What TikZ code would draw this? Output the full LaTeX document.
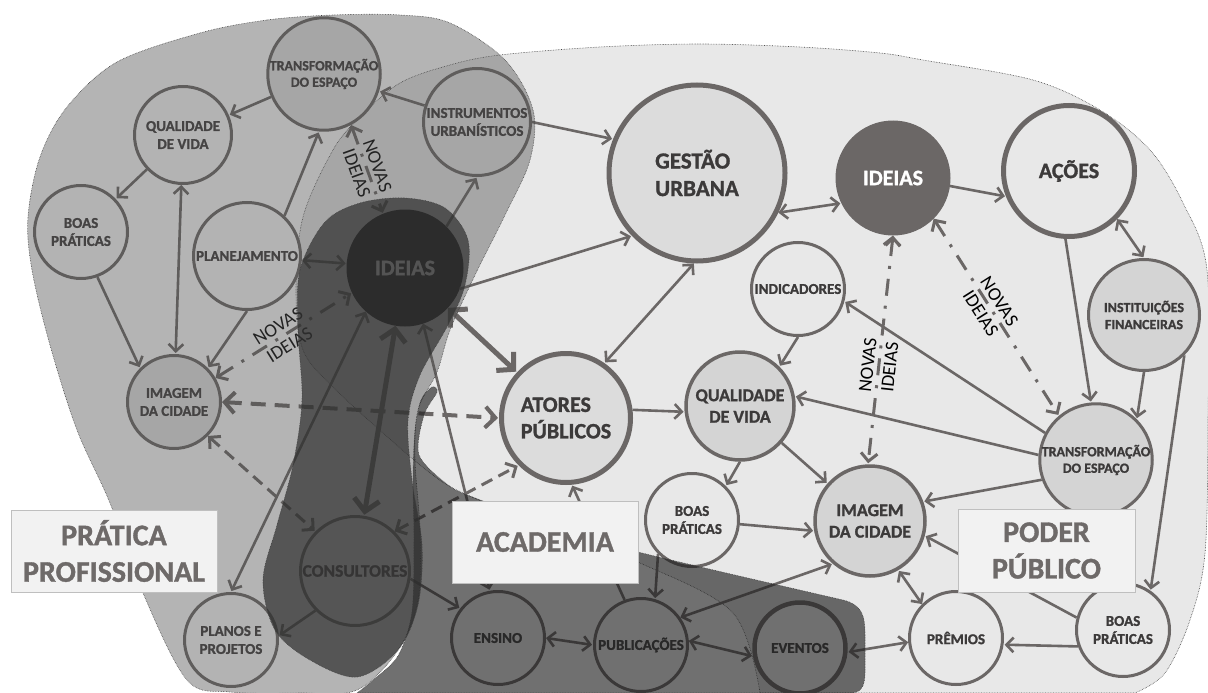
\documentclass[tikz,border=0pt]{standalone}
\usepackage{fontspec}
\setmainfont{Carlito}[BoldFeatures={FakeBold=1.2}]
\usetikzlibrary{arrows.meta}

\definecolor{edgegray}{HTML}{6B6766}
\definecolor{ink}{HTML}{3C3A3A}
\definecolor{paper}{HTML}{E8E8E8}
\definecolor{tint}{HTML}{D4D4D4}
\definecolor{tone}{HTML}{DCDCDC}
\definecolor{boxfill}{HTML}{F2F2F2}
\definecolor{boxline}{HTML}{BFBFBF}
\definecolor{boxtext}{HTML}{6E6A69}
\definecolor{rim}{HTML}{404040}
\definecolor{veilpro}{HTML}{515151}
\definecolor{veilacad}{HTML}{1E1E1E}
\definecolor{veilcons}{HTML}{2F2F2F}
\definecolor{seed}{HTML}{0A0A0A}

\begin{document}
\begin{tikzpicture}[x=1pt,y=-1pt,shorten >=1pt,
  >={Straight Barb[length=2pt 2,width=3pt 4.5]},
  ball/.style={circle,draw=edgegray,line width=3pt,fill=white,inner sep=0pt,
    align=center,text=ink,minimum size=93pt,font=\bfseries\fontsize{15}{18}\selectfont},
  bigball/.style={ball,line width=5pt,font=\bfseries\fontsize{22}{26.5}\selectfont},
  link/.style={draw=edgegray,line width=2.6pt},
  heavy/.style={line width=5pt},
  guess/.style={line width=4pt,dash pattern=on 15pt off 9pt},
  thinguess/.style={line width=3pt,dash pattern=on 12pt off 7pt},
  hint/.style={line width=3pt,dash pattern=on 17pt off 10pt on 3pt off 10pt},
  novas/.style={sloped,inner sep=0pt,align=center,text=black,font=\fontsize{19}{22}\selectfont},
  area/.style={rectangle,fill=boxfill,draw=boxline,line width=1pt,text=boxtext,align=center,
    minimum height=82pt,font=\bfseries\fontsize{30}{36.5}\selectfont},
  veil/.style={draw=rim,line width=.6pt,densely dotted}]

\useasboundingbox (0,0) rectangle (1208,693);

% poder publico
\filldraw[veil,fill=paper]
  plot[smooth,tension=.55] coordinates {(760,693) (733,613) (640,563) (540,525) (463,493) (430,473)
    (383,433) (333,387) (303,350) (296,290) (303,217) (333,150) (360,117) (400,83) (450,65) (500,55)
    (600,47) (700,44) (800,47) (880,53) (923,60) (1033,80) (1100,110) (1150,150) (1183,203)
    (1207,270) (1208,420) (1205,553) (1190,620) (1165,673) (1135,693)} -- cycle;

\node[ball,fill=paper,minimum size=109pt,font=\bfseries\fontsize{14}{16.5}\selectfont] (tr1) at (324,74) {TRANSFORMAÇÃO\\DO ESPAÇO};
\node[ball,minimum size=97pt] (qv1) at (183,135) {QUALIDADE\\DE VIDA};
\node[ball] (bp1) at (81,232) {BOAS\\PRÁTICAS};
\node[ball,minimum size=107pt] (plan) at (247,256) {PLANEJAMENTO};
\node[ball,fill=paper,minimum size=107pt] (inst) at (477,122) {INSTRUMENTOS\\URBANÍSTICOS};
\node[bigball,fill=seed,draw=seed,line width=1pt,text=white,minimum size=116pt] (idL) at (405,268) {IDEIAS};
\node[ball,fill=paper] (im1) at (174,402) {IMAGEM\\DA CIDADE};
\node[ball,fill=none,minimum size=109pt,font=\bfseries\fontsize{17.5}{21}\selectfont] (cons) at (355,571) {CONSULTORES};
\node[ball] (pp) at (231,640) {PLANOS E\\PROJETOS};

\node[bigball,fill=tone,align=left,minimum size=176pt,font=\bfseries\fontsize{23}{27.5}\selectfont] (gest) at (697,173) {GESTÃO\\URBANA};
\node[bigball,fill=edgegray,line width=1pt,text=white,minimum size=114pt] (idR) at (893,178) {IDEIAS};
\node[bigball,fill=paper,minimum size=131pt] (acoes) at (1069,171) {AÇÕES};
\node[ball,fill=paper] (ind) at (798,289) {INDICADORES};
\node[ball,fill=tint,minimum size=111pt,font=\bfseries\fontsize{14}{17}\selectfont] (fin) at (1144,315) {INSTITUIÇÕES\\FINANCEIRAS};
\node[bigball,fill=tone,align=left,minimum size=129pt] (ator) at (566,418) {ATORES\\PÚBLICOS};
\node[ball,fill=tint,line width=3.5pt,minimum size=108pt,font=\bfseries\fontsize{18}{21.5}\selectfont] (qv2) at (740,406) {QUALIDADE\\DE VIDA};
\node[ball,fill=paper] (bp2) at (692,520) {BOAS\\PRÁTICAS};
\node[ball,fill=tint,minimum size=109pt,font=\bfseries\fontsize{14}{16.5}\selectfont] (tr2) at (1096,460) {TRANSFORMAÇÃO\\DO ESPAÇO};
\node[ball,fill=tint,line width=3.5pt,minimum size=110pt,font=\bfseries\fontsize{18}{21.5}\selectfont] (im2) at (870,521) {IMAGEM\\DA CIDADE};
\node[ball,fill=paper] (prem) at (956,638) {PRÊMIOS};
\node[ball,fill=paper] (bp3) at (1123,630) {BOAS\\PRÁTICAS};
\node[ball] (ens) at (498,638) {ENSINO};
\node[ball] (pub) at (641,645) {PUBLICAÇÕES};
\node[ball,line width=4.5pt,minimum size=91pt] (ev) at (800,648) {EVENTOS};

\path[link,->]
  (inst) edge (tr1)
  (tr1) edge (qv1)
  (qv1) edge (bp1)
  (qv1) edge[<->] (im1)
  (bp1.-70) edge (im1.135)
  (plan.47) edge (tr1.-95)
  (plan.-90) edge (im1.45)
  (plan) edge[<->] (idL)
  (idL.45) edge (inst.-90)
  (idL.-132) edge[<->] (pp.90)
  (idL.-72) edge[<->] (ens.100)
  (idL) edge[heavy,<->] (cons)
  (idL) edge[heavy,<->] (ator)
  (idL.-21) edge (gest.224)
  (inst.0) edge (gest.158)
  (gest.-92) edge[<->] (ator.55)
  (gest.-26) edge[<->] (idR.206)
  (idR.-8) edge (acoes.202)
  (acoes.-45) edge[<->] (fin.90)
  (acoes.-93) edge (tr2.95)
  (fin.-90) edge (tr2.45)
  (fin.-45) edge (bp3.55)
  (tr2.152) edge (ind.-15)
  (tr2.175) edge (qv2.10)
  (tr2.200) edge (im2.20)
  (ind.-90) edge (qv2.45)
  (ator.7) edge (qv2.186)
  (qv2.-90) edge (bp2.45)
  (qv2) edge (im2)
  (bp2.-5) edge (im2.190)
  (bp2.-135) edge (pub.73)
  (bp3.165) edge (im2.-15)
  (bp3.200) edge (prem.-8)
  (prem.135) edge[<->] (im2.-60)
  (prem.185) edge[<->] (ev.-5)
  (pub.5) edge[<->] (ev.190)
  (ens.0) edge[<->] (pub.180)
  (pub.35) edge[<->] (im2.229)
  (pub.110) edge (ator.-85)
  (cons.-8) edge (ens.142)
  (cons.-135) edge (pp.5)
  (im1.0) edge[guess,<->] (ator.180)
  (im1.-45) edge[thinguess,<->] (cons.135)
  (cons.45) edge[thinguess,<->] (ator.-135)
  (tr1.-62) edge[hint,<->] node[novas] (nv1) {NOVAS\\IDEIAS} (idL.112)
  (im1.30) edge[hint,<->] node[novas] (nv2) {NOVAS\\IDEIAS} (idL.205)
  (idR.-45) edge[hint,<->] node[novas,pos=.45] (nv3) {NOVAS\\IDEIAS} (tr2.130)
  (idR.-90) edge[hint,<->] node[novas,pos=.57] (nv4) {NOVAS\\IDEIAS} (im2.92);

% pratica profissional
\filldraw[veil,fill=veilpro,fill opacity=.43]
  plot[smooth cycle,tension=.55] coordinates {(200,33) (267,20) (333,15) (400,15) (450,23) (505,60)
    (533,110) (530,160) (505,215) (475,275) (450,330) (437,372) (418,410) (415,460) (420,530)
    (418,600) (398,650) (357,690) (300,693) (230,692) (187,680) (143,593) (110,503) (77,430)
    (50,345) (32,270) (28,217) (40,157) (67,107) (117,62)};

% academia
\filldraw[veil,fill=veilacad,fill opacity=.635]
  plot[smooth,tension=.5] coordinates {(357,693) (372,681) (398,656) (412,612) (414,540) (413,480)
    (415,430) (421,400) (432,387) (437,392) (424,415) (419,455) (448,485) (475,498) (560,528)
    (638,552) (843,600)}
  .. controls (862,605) and (865,615) .. (865,635) -- (865,672)
  .. controls (865,688) and (860,693) .. (850,693) -- cycle;

% consultores
\filldraw[veil,fill=veilcons,fill opacity=.714]
  plot[smooth cycle,tension=.55] coordinates {(405,198) (445,208) (468,240) (465,285) (448,325)
    (420,375) (408,420) (412,480) (422,545) (418,605) (398,650) (357,677) (310,660) (275,630)
    (263,580) (277,525) (293,465) (302,400) (298,330) (300,270) (325,222) (360,203)};

\node[area,minimum width=206pt] (prof) at (114,551) {PRÁTICA\\PROFISSIONAL};
\node[area,minimum width=186pt] (acad) at (545,542) {ACADEMIA};
\node[area,minimum width=177pt,minimum height=83pt] (poder) at (1046.5,550.5) {PODER\\PÚBLICO};
\end{tikzpicture}
\end{document}
